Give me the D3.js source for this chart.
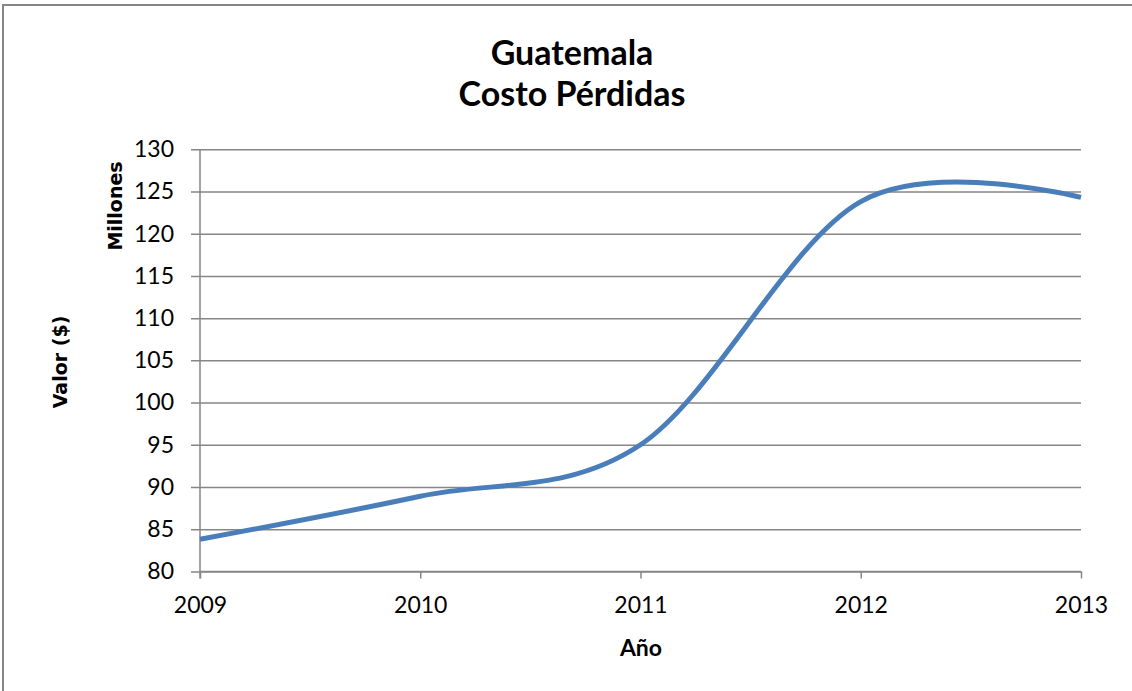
<!DOCTYPE html>
<html>
<head>
<meta charset="utf-8">
<script src="https://cdn.jsdelivr.net/npm/d3@7"></script>
<style>
  html, body { margin: 0; padding: 0; background: #fff; }
  svg { display: block; font-family: Lato, "Open Sans", sans-serif; }
</style>
</head>
<body>
<svg id="chart" width="1132" height="691"></svg>
<script>
// Cost of losses, Guatemala (millions of dollars)
const years = [2009, 2010, 2011, 2012, 2013];
const costValues = [83.8, 88.9, 95.0, 123.8, 124.3];
const yTicks = [80, 85, 90, 95, 100, 105, 110, 115, 120, 125, 130];
const titleLines = ["Guatemala", "Costo Pérdidas"];

const svg = d3.select("#chart");
const margin = { left: 200, right: 1081, top: 149.3, bottom: 571.4 };

// outer chart frame
svg.append("rect")
  .attr("x", 3).attr("y", 5)
  .attr("width", 1140).attr("height", 700)
  .attr("fill", "#fff")
  .attr("stroke", "#868686").attr("stroke-width", 2);

const x = d3.scaleLinear().domain([2009, 2013]).range([margin.left, margin.right]);
const y = d3.scaleLinear().domain([80, 130]).range([margin.bottom, margin.top]);

// horizontal gridlines with outward ticks on the value axis
const yAxis = d3.axisLeft(y)
  .tickValues(yTicks)
  .tickSize(-(margin.right - margin.left))
  .tickPadding(26)
  .tickFormat(d3.format("d"));

const gy = svg.append("g")
  .attr("transform", `translate(${margin.left},0)`)
  .call(yAxis);
gy.select(".domain").remove();
gy.selectAll(".tick line")
  .attr("x1", -9)
  .attr("stroke", "#868686").attr("stroke-width", 1.5);
gy.selectAll(".tick text")
  .attr("font-size", 23).attr("fill", "#000")
  .attr("font-family", "Lato, sans-serif");

// category axis along the bottom
const xAxis = d3.axisBottom(x)
  .tickValues(years)
  .tickSize(7)
  .tickPadding(18)
  .tickFormat(d3.format("d"));

const gx = svg.append("g")
  .attr("transform", `translate(0,${margin.bottom})`)
  .call(xAxis);
gx.select(".domain")
  .attr("d", `M${margin.left},0H${margin.right}`)
  .attr("stroke", "#868686").attr("stroke-width", 1.5);
gx.selectAll(".tick line").attr("stroke", "#868686").attr("stroke-width", 1.5);
gx.selectAll(".tick text")
  .attr("font-size", 23).attr("fill", "#000")
  .attr("font-family", "Lato, sans-serif");

// vertical value-axis line
svg.append("line")
  .attr("x1", margin.left).attr("x2", margin.left)
  .attr("y1", margin.top).attr("y2", margin.bottom + 7)
  .attr("stroke", "#868686").attr("stroke-width", 1.5);

// smoothed data line
const line = d3.line()
  .x((d, i) => x(years[i]))
  .y(d => y(d))
  .curve(d3.curveCardinal.tension(0));

svg.append("path")
  .datum(costValues)
  .attr("d", line)
  .attr("fill", "none")
  .attr("stroke", "#4A7EBB")
  .attr("stroke-width", 5)
  .attr("stroke-linecap", "butt");

// title
svg.append("g").selectAll("text")
  .data(titleLines)
  .join("text")
  .attr("x", 572)
  .attr("y", (d, i) => 65 + i * 41)
  .attr("text-anchor", "middle")
  .attr("font-size", 34)
  .attr("font-weight", "bold")
  .attr("fill", "#000")
  .text(d => d);

// axis titles
svg.append("text")
  .attr("transform", "translate(67,362) rotate(-90)")
  .attr("text-anchor", "middle")
  .attr("font-family", "'DejaVu Sans', sans-serif")
  .attr("font-size", 19).attr("font-weight", "bold")
  .text("Valor ($)");

svg.append("text")
  .attr("transform", "translate(122,206) rotate(-90)")
  .attr("text-anchor", "middle")
  .attr("font-family", "'DejaVu Sans', sans-serif")
  .attr("font-size", 19).attr("font-weight", "bold")
  .text("Millones");

svg.append("text")
  .attr("x", 641).attr("y", 656)
  .attr("text-anchor", "middle")
  .attr("font-size", 23).attr("font-weight", "bold")
  .text("Año");
</script>
</body>
</html>
